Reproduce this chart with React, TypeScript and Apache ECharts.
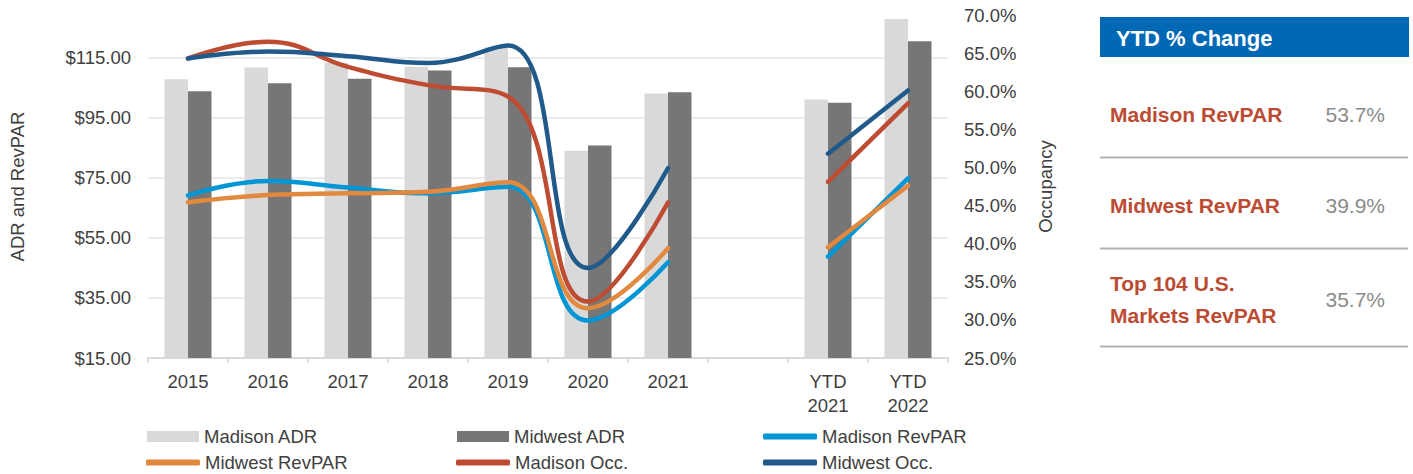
import React, { useEffect, useRef } from "react";
import * as echarts from "echarts";

const categories = ["2015", "2016", "2017", "2018", "2019", "2020", "2021", "", "YTD\n2021", "YTD\n2022"];
const madisonADR = [107.9, 111.8, 113.4, 112.1, 118.6, 84.1, 103.2, null, 101.2, 128.0];
const midwestADR = [103.9, 106.6, 108.1, 110.8, 111.9, 85.8, 103.6, null, 100.1, 120.6];
const madisonRevPAR = [69.2, 74.0, 71.8, 69.9, 72.1, 27.5, 46.9, null, 48.8, 74.9];
const midwestRevPAR = [66.9, 69.3, 69.9, 70.4, 73.6, 31.6, 51.6, null, 51.9, 72.4];
const madisonOcc = [64.3, 66.5, 63.2, 60.8, 59.3, 32.4, 45.4, null, 48.1, 58.4];
const midwestOcc = [64.3, 65.2, 64.6, 63.7, 66.0, 36.8, 49.9, null, 51.8, 60.1];
const leftTicks = [15, 35, 55, 75, 95, 115];
const tableRows = [
  { label: ["Madison RevPAR"], value: "53.7%" },
  { label: ["Midwest RevPAR"], value: "39.9%" },
  { label: ["Top 104 U.S.", "Markets RevPAR"], value: "35.7%" },
];

const FONT = "Liberation Sans, Arial, Helvetica, sans-serif";
const TXT = "#404040";
const FS = 18.5;

export default function App() {
  const ref = useRef<HTMLDivElement>(null);
  useEffect(() => {
    document.body.style.margin = "0";
    const chart = echarts.init(ref.current!, undefined, { renderer: "svg" });
    const legendPos = [
      { name: "Madison ADR", left: 147, top: 427, icon: "rect", h: 11 },
      { name: "Midwest ADR", left: 457, top: 427, icon: "rect", h: 11 },
      { name: "Madison RevPAR", left: 763, top: 427, icon: "roundRect", h: 6 },
      { name: "Midwest RevPAR", left: 146, top: 453, icon: "roundRect", h: 6 },
      { name: "Madison Occ.", left: 456, top: 453, icon: "roundRect", h: 6 },
      { name: "Midwest Occ.", left: 763, top: 453, icon: "roundRect", h: 6 },
    ];
    const rowY = [114, 205, 299];
    const sepY = [157.5, 248.5, 346.5];
    const graphic: any[] = [
      { type: "rect", shape: { x: 1100, y: 17, width: 309, height: 40 }, style: { fill: "#0068B4" } },
      {
        type: "text", x: 1116, y: 38,
        style: { text: "YTD % Change", fill: "#ffffff", font: `bold 22px ${FONT}`, verticalAlign: "middle" },
      },
    ];
    tableRows.forEach((r, i) => {
      const lines = r.label;
      lines.forEach((ln, j) => {
        const y = lines.length === 1 ? rowY[i] : rowY[i] - 16 + j * 32;
        graphic.push({
          type: "text", x: 1110, y,
          style: { text: ln, fill: "#BC4B33", font: `bold 21px ${FONT}`, verticalAlign: "middle" },
        });
      });
      graphic.push({
        type: "text", x: 1385, y: rowY[i],
        style: { text: r.value, fill: "#8a8a8a", font: `21px ${FONT}`, verticalAlign: "middle", align: "right" },
      });
      graphic.push({
        type: "line", shape: { x1: 1100, y1: sepY[i], x2: 1408, y2: sepY[i] },
        style: { stroke: "#b3b3b3", lineWidth: 2 },
      });
    });

    const lineSeries = (name: string, data: any[], color: string, yAxisIndex: number) => ({
      name, type: "line", data, yAxisIndex, smooth: 0.45, symbol: "none", connectNulls: false,
      lineStyle: { color, width: 4.5, cap: "round" }, itemStyle: { color }, z: 3,
    });

    chart.setOption({
      animation: false,
      textStyle: { fontFamily: FONT },
      grid: { left: 142, right: 465, top: 15, bottom: 116 },
      legend: legendPos.map((l) => ({
        data: [l.name], left: l.left, top: l.top, icon: l.icon, itemWidth: l.icon === "rect" ? 52 : 54,
        itemHeight: l.h, itemGap: 0, padding: 0,
        textStyle: { color: TXT, fontSize: FS, fontFamily: FONT, lineHeight: 18 },
        selectedMode: false,
      })),
      xAxis: {
        type: "category", data: categories,
        axisLine: { lineStyle: { color: "#d9d9d9", width: 2 } },
        axisTick: { show: true, length: 5, lineStyle: { color: "#d9d9d9", width: 1.5 } },
        axisLabel: { color: TXT, fontSize: FS, margin: 11, lineHeight: 24, interval: 0 },
      },
      yAxis: [
        {
          type: "value", min: 15, max: 129.33,
          name: "ADR and RevPAR", nameLocation: "middle", nameGap: 121, nameRotate: 90,
          nameTextStyle: { color: TXT, fontSize: FS },
          axisLine: { show: false },
          axisTick: { show: false, customValues: leftTicks },
          axisLabel: {
            color: TXT, fontSize: FS, margin: 17, customValues: leftTicks,
            formatter: (v: number) => "$" + v.toFixed(2),
          },
          splitLine: { show: true, lineStyle: { color: "#e5e5e5", width: 1.5 } },
        },
        {
          type: "value", min: 25, max: 70, interval: 5,
          name: "Occupancy", nameLocation: "middle", nameGap: 88, nameRotate: 90,
          nameTextStyle: { color: TXT, fontSize: FS },
          axisLine: { show: false }, axisTick: { show: false },
          axisLabel: { color: TXT, fontSize: FS, margin: 16, formatter: (v: number) => v.toFixed(1) + "%" },
          splitLine: { show: false },
        },
      ],
      series: [
        { name: "Madison ADR", type: "bar", data: madisonADR, barWidth: 23.5, barGap: "0%", itemStyle: { color: "#D9D9D9" } },
        { name: "Midwest ADR", type: "bar", data: midwestADR, barWidth: 23.5, barGap: "0%", itemStyle: { color: "#767676" } },
        lineSeries("Madison RevPAR", madisonRevPAR, "#0096D6", 0),
        lineSeries("Midwest RevPAR", midwestRevPAR, "#E0893F", 0),
        lineSeries("Madison Occ.", madisonOcc, "#BD4C33", 1),
        lineSeries("Midwest Occ.", midwestOcc, "#1F5A8A", 1),
      ],
      graphic,
    });
    return () => chart.dispose();
  }, []);
  return <div ref={ref} style={{ width: 1413, height: 474 }} />;
}
